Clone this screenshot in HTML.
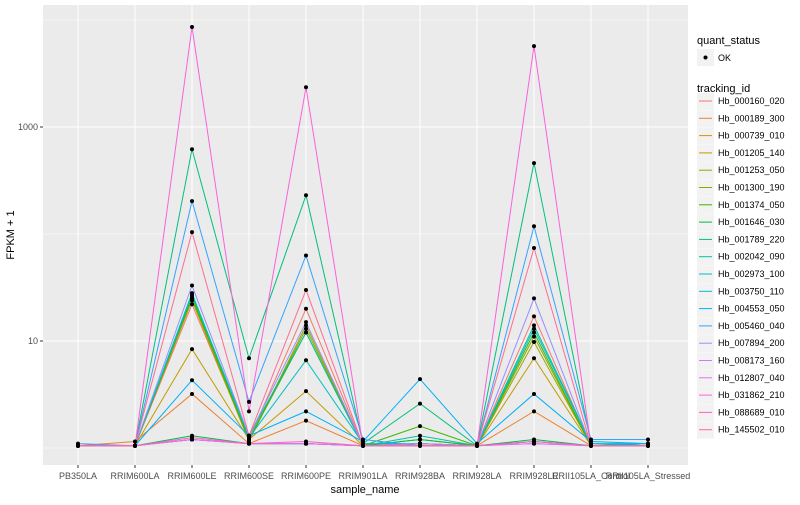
<!DOCTYPE html>
<html><head><meta charset="utf-8"><style>
body{margin:0;background:#fff;font-family:"Liberation Sans",sans-serif}
svg text{font-family:"Liberation Sans",sans-serif}
</style></head><body>
<svg id="chart" width="800" height="500" xmlns="http://www.w3.org/2000/svg">
<rect x="43" y="5" width="645" height="460" fill="#EBEBEB"/>
<g id="grid"></g><g id="lines"></g><g id="pts"></g><g id="axes"></g><g id="legend"></g>
<text x="14" y="235" font-size="11" transform="rotate(-90 14 235)" text-anchor="middle">FPKM + 1</text>
<text x="365" y="493" font-size="11" text-anchor="middle">sample_name</text>
</svg>
<script>
const samples=["PB350LA","RRIM600LA","RRIM600LE","RRIM600SE","RRIM600PE","RRIM901LA","RRIM928BA","RRIM928LA","RRIM928LE","RRII105LA_Control","RRII105LA_Stressed"];
const ids=["Hb_000160_020","Hb_000189_300","Hb_000739_010","Hb_001205_140","Hb_001253_050","Hb_001300_190","Hb_001374_050","Hb_001646_030","Hb_001789_220","Hb_002042_090","Hb_002973_100","Hb_003750_110","Hb_004553_050","Hb_005460_040","Hb_007894_200","Hb_008173_160","Hb_012807_040","Hb_031862_210","Hb_088689_010","Hb_145502_010"];
const colors=["#F8766D","#EA8331","#D89000","#C09B00","#A3A500","#7CAE00","#39B600","#00BB4E","#00BF7D","#00C1A3","#00BFC4","#00BAE0","#00B0F6","#35A2FF","#9590FF","#C77CFF","#E76BF3","#FA62DB","#FF62BC","#FF6C91"];
const s01=[1.05,1.05,22,1.2,20,1.05,1.1,1.05,17,1.05,1.05];
const s02=[1.05,1.15,3.2,1.1,1.8,1.05,1.1,1.05,2.2,1.05,1.05];
const s03=[1.05,1.05,1.2,1.1,1.1,1.05,1.1,1.05,1.15,1.05,1.05];
const s04=[1.05,1.05,8.4,1.2,3.4,1.05,1.05,1.05,6.9,1.05,1.05];
const s05=[1.05,1.05,24,1.15,14,1.05,1.1,1.05,9.8,1.05,1.05];
const s06=[1.05,1.05,25,1.2,13,1.05,1.2,1.05,11,1.05,1.05];
const s07=[1.05,1.05,26,1.2,12,1.05,1.6,1.05,12,1.05,1.05];
const s08=[1.05,1.05,1.3,1.1,1.1,1.05,1.2,1.05,1.2,1.05,1.05];
const s09=[1.05,1.05,620,6.9,230,1.1,2.6,1.05,460,1.1,1.05];
const s10=[1.05,1.05,27,1.3,12,1.05,1.3,1.05,14,1.1,1.05];
const s11=[1.05,1.05,28,1.25,6.6,1.1,1.1,1.05,13,1.1,1.1];
const s12=[1.05,1.05,1.2,1.1,1.1,1.05,1.05,1.05,1.15,1.05,1.1];
const s13=[1.05,1.05,4.3,1.3,2.2,1.15,4.4,1.1,3.2,1.15,1.1];
const s14=[1.1,1.05,203,2.7,63,1.2,1.05,1.05,118,1.2,1.2];
const s15=[1.05,1.05,33,1.3,15,1.05,1.1,1.05,25,1.05,1.05];
const s16=[1.05,1.05,1.2,1.1,1.1,1.05,1.05,1.05,1.1,1.05,1.05];
const s17=[1.05,1.05,1.2,1.1,1.1,1.05,1.05,1.05,1.1,1.05,1.05];
const s18=[1.05,1.05,8600,2.2,2350,1.05,1.05,1.05,5700,1.05,1.05];
const s19=[1.05,1.05,1.25,1.1,1.15,1.05,1.05,1.05,1.15,1.05,1.05];
const s20=[1.05,1.05,104,1.3,30,1.05,1.05,1.05,74,1.05,1.05];
const series=[s01,s02,s03,s04,s05,s06,s07,s08,s09,s10,s11,s12,s13,s14,s15,s16,s17,s18,s19,s20];
const majorTicks=[10,1000];
const minorTicks=[1,100,10000];

const NS="http://www.w3.org/2000/svg";
function xs(i){return 78+i*57;}
function ys(v){return 341-(Math.log10(v)-1)*107;}
function mk(tag,attrs,parent){const e=document.createElementNS(NS,tag);for(const k in attrs)e.setAttribute(k,attrs[k]);parent.appendChild(e);return e;}
const grid=document.getElementById('grid'),lines=document.getElementById('lines'),pts=document.getElementById('pts'),axes=document.getElementById('axes'),leg=document.getElementById('legend');
minorTicks.forEach(t=>{const y=ys(t);if(y<5||y>465)return;const l=mk('line',{x1:43,x2:688,y1:y,y2:y,stroke:'#fff','stroke-width':0.5},grid);

});
majorTicks.forEach(t=>{const y=ys(t);const l=mk('line',{x1:43,x2:688,y1:y,y2:y,stroke:'#fff','stroke-width':1},grid);


const tx=mk('text',{x:38,y:y+3,'font-size':9,'text-anchor':'end',fill:'#4D4D4D'},axes);tx.textContent=String(t);


mk('line',{x1:40,x2:43,y1:y,y2:y,stroke:'#333'},axes);});
samples.forEach((s,i)=>{const x=xs(i);const l=mk('line',{x1:x,x2:x,y1:5,y2:465,stroke:'#fff','stroke-width':1},grid);


mk('line',{x1:x,x2:x,y1:465,y2:468,stroke:'#333'},axes);
const tx=mk('text',{x:x,y:479,'font-size':9,'text-anchor':'middle',fill:'#4D4D4D'},axes);tx.textContent=s;

});
series.forEach((vals,k)=>{const p=mk('polyline',{points:vals.map((v,i)=>xs(i)+','+ys(v)).join(' '),fill:'none',stroke:colors[k],'stroke-width':1},lines);


vals.forEach((v,i)=>{const c=mk('circle',{cx:xs(i),cy:ys(v),r:2,fill:'#000'},pts);

});});
// legend
let t=mk('text',{x:697,y:44,'font-size':11},leg);t.textContent='quant_status';


mk('rect',{x:697,y:49,width:17,height:17,fill:'#F2F2F2'},leg);
mk('circle',{cx:705.5,cy:57.5,r:2,fill:'#000'},leg);
t=mk('text',{x:718,y:61,'font-size':9},leg);t.textContent='OK';


t=mk('text',{x:697,y:92,'font-size':11},leg);t.textContent='tracking_id';


ids.forEach((id,k)=>{const y=101+k*17.3;
mk('rect',{x:697,y:y-8,width:17,height:17,fill:'#F2F2F2'},leg);
mk('line',{x1:699,x2:712,y1:y,y2:y,stroke:colors[k],'stroke-width':1},leg);
const e=mk('text',{x:718,y:y+3,'font-size':9},leg);e.textContent=id;

});
</script>
</body></html>
